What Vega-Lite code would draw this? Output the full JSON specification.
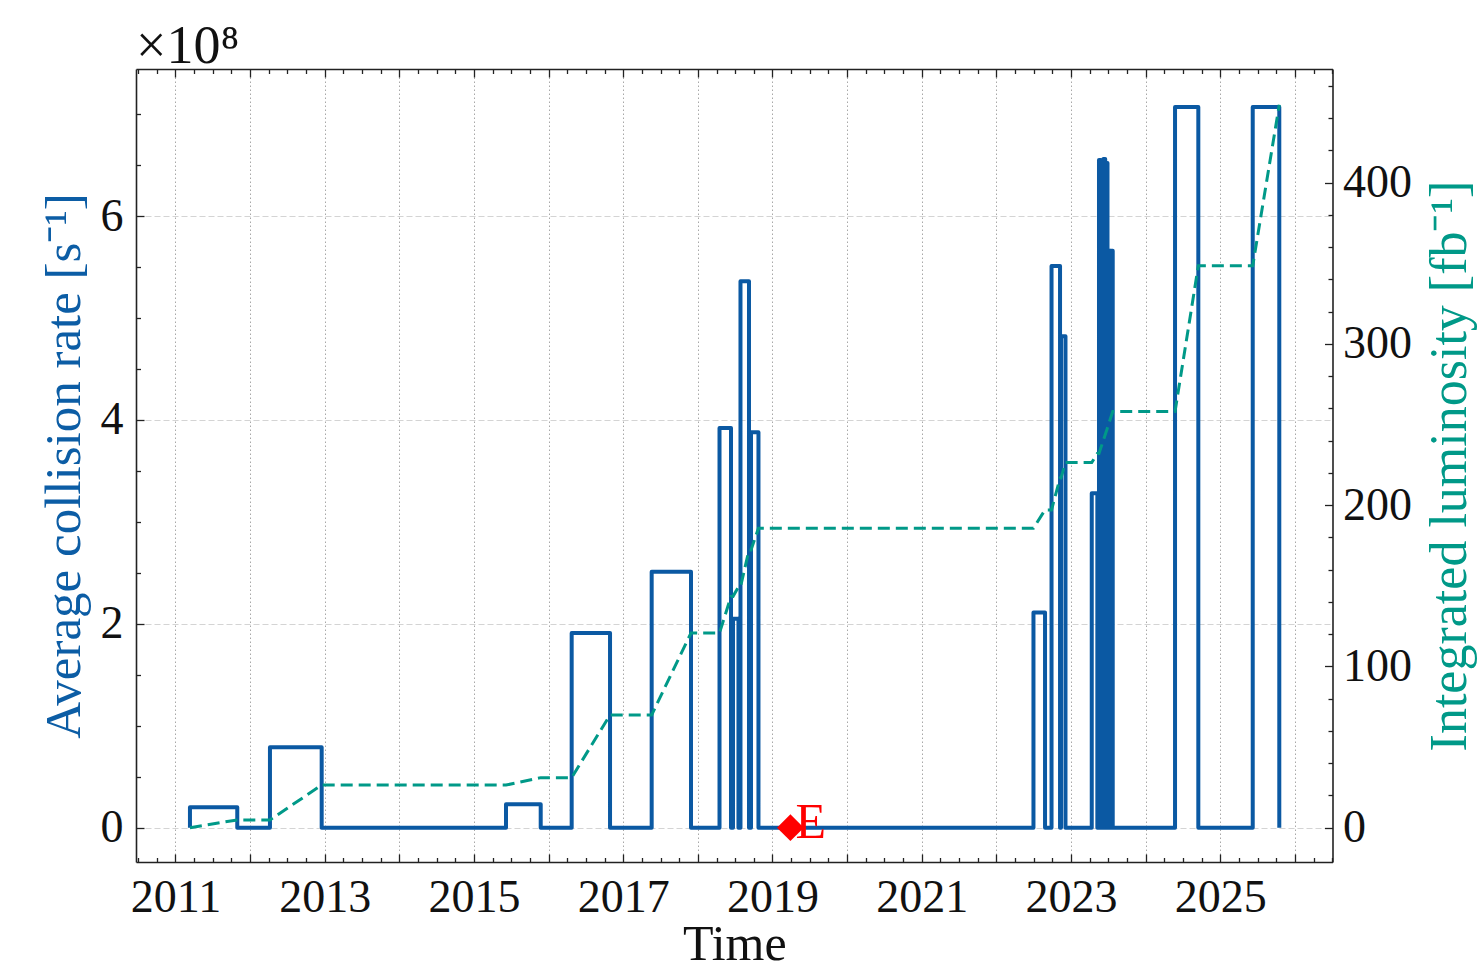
{
  "$schema": "https://vega.github.io/schema/vega-lite/v6.json",
  "width": 1196.5,
  "height": 793,
  "autosize": {"type": "none"},
  "padding": {"left": 136, "top": 69, "right": 149.5, "bottom": 108},
  "background": "white",
  "title": {"text": "×10⁸", "anchor": "start", "frame": "group", "font": "Liberation Serif", "fontSize": 54, "fontWeight": "normal", "color": "#111111", "baseline": "alphabetic", "offset": -54},
  "config": {
    "view": {"stroke": null},
    "axis": {"labelFont": "Liberation Serif", "titleFont": "Liberation Serif", "labelFontSize": 46, "titleFontSize": 51, "titleFontWeight": "normal", "labelColor": "#111111", "titleColor": "#111111", "domainColor": "#222222", "domainWidth": 1.6, "tickColor": "#222222", "tickWidth": 1.3, "labelOverlap": false, "labelFlush": false, "labelBound": false}
  },
  "datasets": {
    "rate": [
      {"i": 0, "t": 2011.194, "rate": 0},
      {"i": 1, "t": 2011.194, "rate": 2.0e7},
      {"i": 2, "t": 2011.828, "rate": 0},
      {"i": 3, "t": 2012.266, "rate": 7.9e7},
      {"i": 4, "t": 2012.959, "rate": 0},
      {"i": 5, "t": 2015.429, "rate": 2.3e7},
      {"i": 6, "t": 2015.894, "rate": 0},
      {"i": 7, "t": 2016.309, "rate": 1.91e8},
      {"i": 8, "t": 2016.823, "rate": 0},
      {"i": 9, "t": 2017.381, "rate": 2.51e8},
      {"i": 10, "t": 2017.908, "rate": 0},
      {"i": 11, "t": 2018.29, "rate": 3.92e8},
      {"i": 12, "t": 2018.444, "rate": 0},
      {"i": 13, "t": 2018.471, "rate": 2.05e8},
      {"i": 14, "t": 2018.544, "rate": 0},
      {"i": 15, "t": 2018.571, "rate": 5.36e8},
      {"i": 16, "t": 2018.685, "rate": 0},
      {"i": 17, "t": 2018.712, "rate": 3.88e8},
      {"i": 18, "t": 2018.812, "rate": 0},
      {"i": 19, "t": 2022.497, "rate": 2.11e8},
      {"i": 20, "t": 2022.652, "rate": 0},
      {"i": 21, "t": 2022.739, "rate": 5.51e8},
      {"i": 22, "t": 2022.853, "rate": 0},
      {"i": 23, "t": 2022.866, "rate": 4.82e8},
      {"i": 24, "t": 2022.926, "rate": 0},
      {"i": 25, "t": 2023.278, "rate": 3.28e8},
      {"i": 26, "t": 2023.353, "rate": 0},
      {"i": 27, "t": 2023.375, "rate": 6.55e8},
      {"i": 28, "t": 2023.398, "rate": 0},
      {"i": 29, "t": 2023.404, "rate": 6.50e8},
      {"i": 30, "t": 2023.428, "rate": 0},
      {"i": 31, "t": 2023.434, "rate": 6.56e8},
      {"i": 32, "t": 2023.458, "rate": 0},
      {"i": 33, "t": 2023.464, "rate": 6.52e8},
      {"i": 34, "t": 2023.489, "rate": 0},
      {"i": 35, "t": 2023.493, "rate": 5.66e8},
      {"i": 36, "t": 2023.521, "rate": 0},
      {"i": 37, "t": 2023.526, "rate": 5.66e8},
      {"i": 38, "t": 2023.559, "rate": 0},
      {"i": 39, "t": 2024.394, "rate": 7.07e8},
      {"i": 40, "t": 2024.706, "rate": 0},
      {"i": 41, "t": 2025.435, "rate": 7.07e8},
      {"i": 42, "t": 2025.791, "rate": 0}
    ],
    "lumi": [
      {"t": 2011.194, "lumi": 0},
      {"t": 2011.828, "lumi": 4.8},
      {"t": 2012.266, "lumi": 4.8},
      {"t": 2012.959, "lumi": 26.4},
      {"t": 2015.429, "lumi": 26.4},
      {"t": 2015.894, "lumi": 31},
      {"t": 2016.309, "lumi": 31},
      {"t": 2016.823, "lumi": 69.9},
      {"t": 2017.381, "lumi": 69.9},
      {"t": 2017.908, "lumi": 120.7},
      {"t": 2018.29, "lumi": 120.7},
      {"t": 2018.444, "lumi": 143.4},
      {"t": 2018.471, "lumi": 143.4},
      {"t": 2018.544, "lumi": 149.2},
      {"t": 2018.571, "lumi": 149.2},
      {"t": 2018.685, "lumi": 172.1},
      {"t": 2018.712, "lumi": 172.1},
      {"t": 2018.812, "lumi": 185.7},
      {"t": 2022.497, "lumi": 185.7},
      {"t": 2022.652, "lumi": 197},
      {"t": 2022.739, "lumi": 197},
      {"t": 2022.853, "lumi": 216.8},
      {"t": 2022.866, "lumi": 216.8},
      {"t": 2022.926, "lumi": 226.4},
      {"t": 2023.278, "lumi": 226.4},
      {"t": 2023.353, "lumi": 232},
      {"t": 2023.375, "lumi": 232},
      {"t": 2023.489, "lumi": 248},
      {"t": 2023.559, "lumi": 258},
      {"t": 2024.394, "lumi": 258},
      {"t": 2024.706, "lumi": 348.4},
      {"t": 2025.435, "lumi": 348.4},
      {"t": 2025.791, "lumi": 448.3}
    ],
    "marker": [
      {"t": 2019.24, "rate": 0, "label": "E"}
    ]
  },
  "layer": [
    {
      "encoding": {
        "x": {
          "field": "t", "type": "quantitative",
          "scale": {"domain": [2010.471, 2026.504], "nice": false, "zero": false},
          "axis": {
            "orient": "bottom", "title": "Time",
            "values": [2010.5,2010.75,2011,2011.25,2011.5,2011.75,2012,2012.25,2012.5,2012.75,2013,2013.25,2013.5,2013.75,2014,2014.25,2014.5,2014.75,2015,2015.25,2015.5,2015.75,2016,2016.25,2016.5,2016.75,2017,2017.25,2017.5,2017.75,2018,2018.25,2018.5,2018.75,2019,2019.25,2019.5,2019.75,2020,2020.25,2020.5,2020.75,2021,2021.25,2021.5,2021.75,2022,2022.25,2022.5,2022.75,2023,2023.25,2023.5,2023.75,2024,2024.25,2024.5,2024.75,2025,2025.25,2025.5,2025.75,2026,2026.25,2026.5],
            "labelExpr": "datum.value % 2 === 1 ? format(datum.value, 'd') : ''",
            "tickSize": {"condition": {"test": "datum.value % 1 === 0", "value": -8}, "value": -4.5},
            "grid": true,
            "gridOpacity": {"condition": {"test": "datum.value % 1 === 0", "value": 1}, "value": 0},
            "gridDash": [1.5, 2.5], "gridColor": "#a8a8a8", "gridWidth": 1,
            "labelPadding": 21, "titlePadding": -4, "titleFontSize": 50
          }
        },
        "y": {
          "field": "rate", "type": "quantitative",
          "scale": {"domain": [-33700000, 744300000], "nice": false, "zero": false},
          "axis": {
            "orient": "left", "title": "Average collision rate [s⁻¹]", "titleColor": "#0C5DA5",
            "values": [0,50000000,100000000,150000000,200000000,250000000,300000000,350000000,400000000,450000000,500000000,550000000,600000000,650000000,700000000],
            "labelExpr": "datum.value % 200000000 === 0 ? format(datum.value / 100000000, 'd') : ''",
            "tickSize": {"condition": {"test": "datum.value % 200000000 === 0", "value": -8}, "value": -4.5},
            "grid": true,
            "gridOpacity": {"condition": {"test": "datum.value % 200000000 === 0", "value": 1}, "value": 0},
            "gridDash": [6, 3], "gridColor": "#d4d4d4", "gridWidth": 1.2,
            "labelPadding": 21, "titlePadding": 10, "titleAngle": 270, "titleBaseline": "bottom"
          }
        }
      },
      "layer": [
        {"data": {"name": "rate"}, "mark": {"type": "line", "interpolate": "step-after", "color": "#0B59A3", "strokeWidth": 4, "strokeJoin": "round"}, "encoding": {"order": {"field": "i", "type": "quantitative"}}},
        {"data": {"name": "marker"}, "mark": {"type": "point", "shape": "diamond", "filled": true, "color": "#ff0000", "size": 720, "opacity": 1}},
        {"data": {"name": "marker"}, "mark": {"type": "text", "font": "Liberation Serif", "fontSize": 50, "color": "#ff0000", "align": "left", "baseline": "alphabetic", "dx": 5, "dy": 10}, "encoding": {"text": {"field": "label"}}}
      ]
    },
    {
      "data": {"name": "lumi"},
      "mark": {"type": "line", "color": "#009988", "strokeWidth": 3, "strokeDash": [12, 6]},
      "encoding": {
        "x": {
          "field": "t", "type": "quantitative",
          "scale": {"domain": [2010.471, 2026.504], "nice": false, "zero": false},
          "axis": {
            "orient": "top", "title": null, "labels": false, "grid": false,
            "values": [2010.5,2010.75,2011,2011.25,2011.5,2011.75,2012,2012.25,2012.5,2012.75,2013,2013.25,2013.5,2013.75,2014,2014.25,2014.5,2014.75,2015,2015.25,2015.5,2015.75,2016,2016.25,2016.5,2016.75,2017,2017.25,2017.5,2017.75,2018,2018.25,2018.5,2018.75,2019,2019.25,2019.5,2019.75,2020,2020.25,2020.5,2020.75,2021,2021.25,2021.5,2021.75,2022,2022.25,2022.5,2022.75,2023,2023.25,2023.5,2023.75,2024,2024.25,2024.5,2024.75,2025,2025.25,2025.5,2025.75,2026,2026.25,2026.5],
            "tickSize": {"condition": {"test": "datum.value % 1 === 0", "value": -8}, "value": -4.5}
          }
        },
        "y": {
          "field": "lumi", "type": "quantitative",
          "scale": {"domain": [-21.3, 470.4], "nice": false, "zero": false},
          "axis": {
            "orient": "right", "title": "Integrated luminosity [fb⁻¹]", "titleColor": "#009988",
            "values": [0,20,40,60,80,100,120,140,160,180,200,220,240,260,280,300,320,340,360,380,400,420,440,460],
            "labelExpr": "datum.value % 100 === 0 ? format(datum.value, 'd') : ''",
            "tickSize": {"condition": {"test": "datum.value % 100 === 0", "value": -8}, "value": -4.5},
            "grid": false,
            "labelPadding": 18, "titlePadding": 13, "titleAngle": 270, "titleBaseline": "top", "titleFontSize": 52
          }
        }
      }
    }
  ],
  "resolve": {"scale": {"x": "independent", "y": "independent"}}
}
